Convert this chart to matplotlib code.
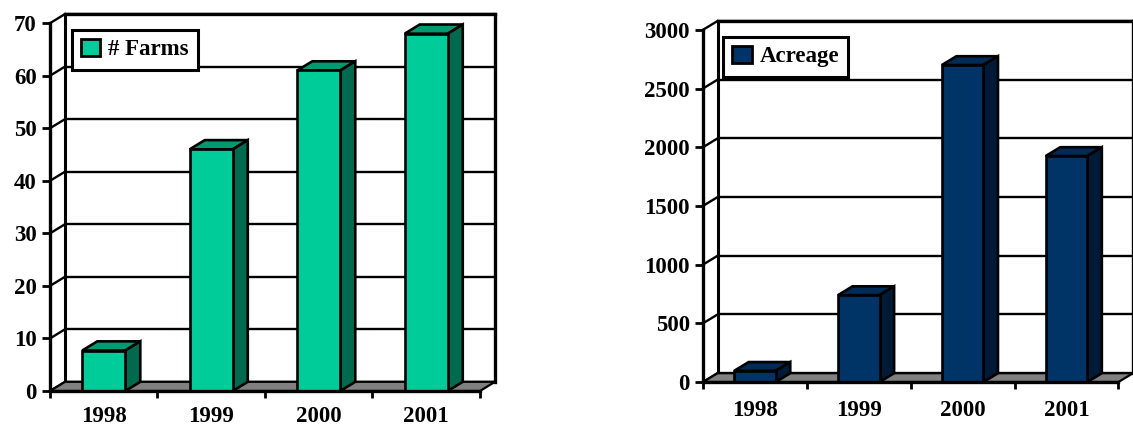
import matplotlib
matplotlib.use("Agg")
import matplotlib.pyplot as plt
from matplotlib.patches import Polygon, Patch

# ---- data ----
years = ["1998", "1999", "2000", "2001"]
farms = [7.7, 46, 61, 68]
acreage = [95, 740, 2700, 1925]
farms_ticks = [0, 10, 20, 30, 40, 50, 60, 70]
acreage_ticks = [0, 500, 1000, 1500, 2000, 2500, 3000]

plt.rcParams['font.family'] = ['Liberation Serif', 'DejaVu Serif']
plt.rcParams['font.weight'] = 'bold'

W, H = 1133, 426
fig = plt.figure(figsize=(W / 100, H / 100), dpi=100)


def px_axes(l, r, top, bottom):
    return fig.add_axes([l / W, (H - bottom) / H, (r - l) / W, (bottom - top) / H])


def draw_chart(ax, cats, vals, ticks, colors, label, legend_anchor, xpad):
    front, topc, sidec = colors
    n = len(cats)
    ymax = ticks[-1]
    dx = 0.14
    dy = 0.025 * ymax
    lw = 1.9
    ax.set_xlim(0, n + dx)
    ax.set_ylim(0, ymax + dy)
    ax.set_facecolor('white')

    # back wall
    wall = Polygon([(dx, dy), (n + dx, dy), (n + dx, ymax + dy), (dx, ymax + dy)],
                   closed=True, facecolor='white', edgecolor='none', zorder=0)
    ax.add_patch(wall)
    # gridlines on back wall and diagonals on left wall
    for v in ticks:
        ax.plot([dx, n + dx], [v + dy, v + dy], color='black', lw=1.7, zorder=1,
                solid_capstyle='butt', clip_on=False)
        ax.plot([0, dx], [v, v + dy], color='black', lw=1.7, zorder=1, clip_on=False)
    # wall borders
    ax.plot([dx, dx], [dy, ymax + dy], color='black', lw=2.2, zorder=1, clip_on=False)
    ax.plot([dx, n + dx], [ymax + dy, ymax + dy], color='black', lw=2.4, zorder=1,
            clip_on=False)
    ax.plot([n + dx, n + dx], [dy, ymax + dy], color='black', lw=2.4, zorder=1,
            clip_on=False)
    # floor
    floor = Polygon([(0, 0), (n, 0), (n + dx, dy), (dx, dy)], closed=True,
                    facecolor='#808080', edgecolor='black', lw=1.6, zorder=2, clip_on=False)
    ax.add_patch(floor)

    # bars
    x = [i + 0.5 for i in range(n)]
    width = 0.4
    bars = ax.bar(x, vals, width=width, color=front, edgecolor='black', lw=lw, zorder=4)
    for rect, v in zip(bars, vals):
        x0 = rect.get_x()
        x1 = x0 + rect.get_width()
        top = Polygon([(x0, v), (x0 + dx, v + dy), (x1 + dx, v + dy), (x1, v)],
                      closed=True, facecolor=topc, edgecolor='black', lw=lw, zorder=3,
                      joinstyle='miter')
        side = Polygon([(x1, 0), (x1 + dx, dy), (x1 + dx, v + dy), (x1, v)],
                       closed=True, facecolor=sidec, edgecolor='black', lw=lw, zorder=3,
                       joinstyle='miter')
        ax.add_patch(top)
        ax.add_patch(side)

    # spines / ticks
    for s in ['top', 'right']:
        ax.spines[s].set_visible(False)
    ax.spines['left'].set_bounds(0, ymax)
    ax.spines['bottom'].set_bounds(0, n)
    ax.spines['left'].set_linewidth(2.4)
    ax.spines['bottom'].set_linewidth(2.4)
    ax.spines['left'].set_zorder(5)
    ax.spines['bottom'].set_zorder(5)
    ax.set_yticks(ticks)
    ax.set_yticklabels([str(t) for t in ticks])
    ax.tick_params(axis='y', direction='out', length=6, width=2.0, pad=3.5,
                   labelsize=16.5)
    ax.set_xticks(list(range(n + 1)))
    ax.set_xticklabels([''] * (n + 1))
    ax.tick_params(axis='x', which='major', direction='out', length=5, width=2.0)
    ax.set_xticks(x, minor=True)
    ax.set_xticklabels(cats, minor=True)
    ax.tick_params(axis='x', which='minor', length=0, pad=xpad, labelsize=16.5)
    for t in ax.get_yticklabels() + ax.get_xticklabels(minor=True):
        t.set_fontweight('bold')

    handle = Patch(facecolor=front, edgecolor='black', lw=2.0)
    leg = ax.legend([handle], [label], loc='upper left', bbox_to_anchor=legend_anchor,
                    borderaxespad=0, fancybox=False, framealpha=1, edgecolor='black',
                    prop={'family': ['Liberation Serif', 'DejaVu Serif'], 'weight': 'bold',
                          'size': 16.5},
                    handlelength=0.85, handleheight=0.75, handletextpad=0.35,
                    borderpad=0.4)
    leg.get_frame().set_linewidth(2.2)
    leg.set_zorder(10)


axL = px_axes(50, 495, 14, 391)
draw_chart(axL, years, farms, farms_ticks, ('#00CC99', '#009970', '#006A4E'),
           '# Farms', (0.049, 0.958), 11.0)

axR = px_axes(703, 1133, 21, 382)
draw_chart(axR, years, acreage, acreage_ticks, ('#003366', '#002B57', '#001A38'),
           'Acreage', (0.0465, 0.956), 13.0)

fig.savefig('out.png', dpi=100)
